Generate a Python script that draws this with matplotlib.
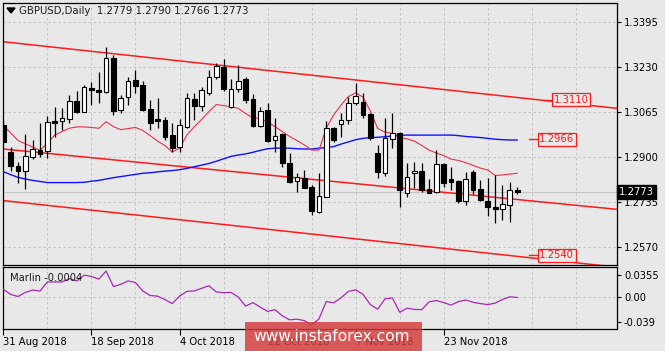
import matplotlib
matplotlib.use("Agg")
import matplotlib.pyplot as plt
from matplotlib.patches import Rectangle, Polygon

# ---------------- data ----------------
symbol_title = "GBPUSD,Daily  1.2779 1.2790 1.2766 1.2773"

opens = [1.3018, 1.2920, 1.2868, 1.2851, 1.2902, 1.2926, 1.2924, 1.3034, 1.3033, 1.3040,
         1.3106, 1.3067, 1.3152, 1.3147, 1.3138, 1.3264, 1.3073, 1.3119, 1.3183, 1.3164,
         1.3077, 1.3040, 1.3036, 1.2981, 1.2939, 1.3012, 1.3113, 1.3089, 1.3136, 1.3193,
         1.3231, 1.3085, 1.3149, 1.3185, 1.3112, 1.3014, 1.3073, 1.2963, 1.2984, 1.2880,
         1.2812, 1.2823, 1.2790, 1.2701, 1.2755, 1.3006, 1.3021, 1.3036, 1.3097, 1.3103,
         1.3059, 1.2914, 1.2841, 1.2967, 1.2988, 1.2768, 1.2841, 1.2849, 1.2783, 1.2774,
         1.2874, 1.2819, 1.2813, 1.2738, 1.2847, 1.2783, 1.2741, 1.2719, 1.2709, 1.2725,
         1.2779]
highs = [1.3035, 1.2938, 1.2884, 1.2985, 1.2963, 1.3026, 1.3051, 1.3085, 1.3080, 1.3128,
         1.3143, 1.3164, 1.3174, 1.3213, 1.3302, 1.3274, 1.3128, 1.3195, 1.3219, 1.3180,
         1.3109, 1.3116, 1.3048, 1.3024, 1.3039, 1.3134, 1.3136, 1.3158, 1.3219, 1.3246,
         1.3258, 1.3185, 1.3238, 1.3193, 1.3131, 1.3085, 1.3097, 1.3042, 1.2990, 1.2916,
         1.2841, 1.2853, 1.2798, 1.2841, 1.3034, 1.3012, 1.3061, 1.3122, 1.3173, 1.3136,
         1.3061, 1.2945, 1.3042, 1.3063, 1.2993, 1.2878, 1.2884, 1.2880, 1.2819, 1.2926,
         1.2880, 1.2865, 1.2816, 1.2847, 1.2853, 1.2816, 1.2822, 1.2835, 1.2798, 1.2810,
         1.2790]
lows = [1.2950, 1.2851, 1.2806, 1.2783, 1.2893, 1.2902, 1.2898, 1.2975, 1.3000, 1.3025,
        1.3063, 1.3064, 1.3091, 1.3097, 1.3134, 1.3054, 1.3061, 1.3091, 1.3136, 1.3070,
        1.3000, 1.3006, 1.2963, 1.2920, 1.2920, 1.3006, 1.3036, 1.3070, 1.3128, 1.3185,
        1.3143, 1.3079, 1.3140, 1.3099, 1.3012, 1.3012, 1.2957, 1.2920, 1.2865, 1.2804,
        1.2774, 1.2786, 1.2688, 1.2697, 1.2753, 1.2957, 1.2975, 1.3022, 1.3091, 1.3043,
        1.2963, 1.2823, 1.2832, 1.2933, 1.2719, 1.2755, 1.2786, 1.2774, 1.2768, 1.2768,
        1.2792, 1.2780, 1.2732, 1.2726, 1.2765, 1.2738, 1.2683, 1.2658, 1.2670, 1.2664,
        1.2766]
closes = [1.2956, 1.2868, 1.2851, 1.2905, 1.2930, 1.2912, 1.3028, 1.3027, 1.3043, 1.3107,
          1.3067, 1.3156, 1.3146, 1.3139, 1.3264, 1.3070, 1.3116, 1.3180, 1.3162, 1.3073,
          1.3026, 1.3034, 1.2975, 1.2933, 1.3018, 1.3116, 1.3089, 1.3146, 1.3195, 1.3234,
          1.3149, 1.3150, 1.3180, 1.3109, 1.3014, 1.3069, 1.2959, 1.2979, 1.2878, 1.2810,
          1.2826, 1.2786, 1.2704, 1.2758, 1.3006, 1.2963, 1.3036, 1.3097, 1.3124, 1.3055,
          1.2970, 1.2847, 1.2970, 1.2988, 1.2780, 1.2829, 1.2849, 1.2780, 1.2770, 1.2874,
          1.2805, 1.2810, 1.2738, 1.2819, 1.2780, 1.2743, 1.2717, 1.2710, 1.2729, 1.2780,
          1.2773]

ma_fast = [1.3016, 1.2989, 1.2961, 1.2949, 1.2937, 1.2925, 1.2952, 1.2981, 1.2994, 1.3006,
           1.3011, 1.3011, 1.3009, 1.3006, 1.3030, 1.3012, 1.3001, 1.3005, 1.3009, 1.2998,
           1.2979, 1.2959, 1.2943, 1.2919, 1.2933, 1.2981, 1.3011, 1.3038, 1.3067, 1.3093,
           1.3089, 1.3085, 1.3079, 1.3060, 1.3044, 1.3042, 1.3029, 1.3012, 1.2994, 1.2976,
           1.2961, 1.2945, 1.2926, 1.2926, 1.3007, 1.3055, 1.3091, 1.3122, 1.3136, 1.3120,
           1.3069, 1.3005, 1.2992, 1.2987, 1.2972, 1.2967, 1.2959, 1.2943, 1.2926, 1.2915,
           1.2906, 1.2893, 1.2888, 1.2880, 1.2870, 1.2860, 1.2853, 1.2833, 1.2835, 1.2838,
           1.2841]
ma_slow = [1.2847, 1.2836, 1.2826, 1.2820, 1.2815, 1.2811, 1.2807, 1.2807, 1.2807, 1.2807,
           1.2807, 1.2808, 1.2812, 1.2815, 1.2820, 1.2825, 1.2829, 1.2833, 1.2837, 1.2841,
           1.2843, 1.2846, 1.2849, 1.2851, 1.2854, 1.2859, 1.2865, 1.2871, 1.2877, 1.2885,
           1.2894, 1.2903, 1.2908, 1.2912, 1.2918, 1.2925, 1.2931, 1.2933, 1.2933, 1.2933,
           1.2931, 1.2930, 1.2930, 1.2933, 1.2935, 1.2939, 1.2948, 1.2956, 1.2964, 1.2969,
           1.2972, 1.2973, 1.2975, 1.2978, 1.2981, 1.2981, 1.2981, 1.2981, 1.2981, 1.2981,
           1.2981, 1.2981, 1.2979, 1.2976, 1.2974, 1.2972, 1.2969, 1.2966, 1.2964, 1.2963,
           1.2963]
marlin = [0.0124, 0.0044, 0.0011, 0.0076, 0.0113, 0.0097, 0.0242, 0.0242, 0.0242, 0.0294,
          0.0258, 0.0350, 0.0329, 0.0286, 0.0415, 0.0168, 0.0205, 0.0258, 0.0232, 0.0097,
          0.0027, 0.0016, -0.0037, -0.0102, 0.0016, 0.0092, 0.0100, 0.0140, 0.0181, 0.0084,
          0.0071, 0.0076, 0.0003, -0.0142, -0.0086, -0.0158, -0.0226, -0.0198, -0.0295, -0.0360,
          -0.0349, -0.0371, -0.0441, -0.0344, -0.0069, -0.0090, -0.0010, 0.0092, 0.0116, 0.0044,
          -0.0118, -0.0190, -0.0026, -0.0013, -0.0239, -0.0174, -0.0194, -0.0198, -0.0074, -0.0053,
          -0.0086, -0.0126, -0.0069, -0.0045, -0.0081, -0.0102, -0.0118, -0.0094, -0.0037, 0.0006,
          -0.0004]

# channel lines: (bar, price) end points
channel_top = [(0, 1.3323), (83.6, 1.3079)]
channel_mid = [(0, 1.2930), (83.6, 1.2709)]
channel_bot = [(0, 1.2741), (83.6, 1.2497)]

level_labels = [("1.3110", 75.0, 1.3110), ("1.2966", 73.0, 1.2966), ("1.2540", 73.0, 1.2540)]
current_price = 1.2773

price_ticks = [1.3395, 1.3230, 1.3065, 1.2900, 1.2735, 1.2570]
marlin_ticks = [0.0355, 0.0, -0.039]
marlin_tick_labels = ["0.0355", "0.00", "-0.039"]
date_positions = [0, 12, 24, 36, 48, 60]
date_labels = ["31 Aug 2018", "18 Sep 2018", "4 Oct 2018", "22 Oct 2018", "7 Nov 2018", "23 Nov 2018"]
marlin_name = "Marlin -0.0004"

# ---------------- figure ----------------
BG = "#e8e8e8"
W, H = 665, 351
fig = plt.figure(figsize=(W / 100, H / 100), dpi=100, facecolor=BG)
plt.rcParams["font.family"] = ["DejaVu Sans"]

def fx(px):
    return px / W

def fy(py):
    return 1 - py / H

ax = fig.add_axes([fx(3), fy(265), fx(617) - fx(3), fy(3) - fy(265)], facecolor=BG)
ax2 = fig.add_axes([fx(3), fy(329), fx(617) - fx(3), fy(267) - fy(329)], facecolor=BG)

xmin, xmax = -0.05, 83.6
n = len(closes)
xs = list(range(n))

for a in (ax, ax2):
    a.set_xlim(xmin, xmax)
    for s in a.spines.values():
        s.set_color("#000000")
        s.set_linewidth(0.9)
    for g in range(6, 84, 6):
        a.axvline(g, color="#bdbdbd", lw=0.6, ls=(0, (3, 3)), zorder=0)

# main panel
ax.set_ylim(1.2505, 1.3465)
for t in price_ticks:
    ax.axhline(t, color="#bdbdbd", lw=0.6, ls=(0, (3, 3)), zorder=0)
ax.axhline(current_price, color="#c4c4c4", lw=0.8, zorder=1)

for (p0, p1) in (channel_top, channel_mid, channel_bot):
    ax.plot([p0[0], p1[0]], [p0[1], p1[1]], color="#ff1a1a", lw=1.1, zorder=2)

ax.plot(xs, ma_slow, color="#1010ff", lw=1.0, zorder=3)
ax.plot(xs, ma_fast, color="#e8304a", lw=0.8, zorder=3)

body_w = 0.64
for i in xs:
    o, h, l, c = opens[i], highs[i], lows[i], closes[i]
    ax.vlines(i, l, h, color="black", lw=0.9, zorder=4)
    lo, hi = min(o, c), max(o, c)
    hgt = max(hi - lo, 0.00012)
    fc = "white" if c > o else "black"
    ax.add_patch(Rectangle((i - body_w / 2, lo), body_w, hgt, facecolor=fc,
                           edgecolor="black", lw=0.8, zorder=5))

ax.yaxis.tick_right()
ax.set_yticks(price_ticks)
ax.set_yticklabels([f"{t:.4f}" for t in price_ticks])
ax.tick_params(axis="y", direction="out", length=3, width=0.8, pad=2, labelsize=7.2,
               colors="black")
ax.set_xticks([])

# title
fig.patches.append(Polygon([[fx(7), fy(8)], [fx(15), fy(8)], [fx(11), fy(13)]],
                           closed=True, transform=fig.transFigure, facecolor="black",
                           edgecolor="black"))
fig.text(fx(19), fy(11), symbol_title, fontsize=7.3, va="center", ha="left", color="#1a1a1a")

# level labels
for txt, xb, price in level_labels:
    ax.plot([xb - 1.4, xb], [price, price], color="#ff1a1a", lw=1.0, zorder=6, clip_on=False)
    ax.text(xb, price, txt, fontsize=7.2, color="#ff1a1a", va="center", ha="left", zorder=7,
            bbox=dict(boxstyle="square,pad=0.15", facecolor=BG, edgecolor="#ff1a1a", lw=0.9))

# current price label
ax.text(1.003, current_price, f"{current_price:.4f}", transform=ax.get_yaxis_transform(),
        fontsize=7.2, color="white", va="center", ha="left", zorder=10,
        bbox=dict(boxstyle="square,pad=0.2", facecolor="black", edgecolor="black"))

# lower panel
ax2.set_ylim(-0.0505, 0.0479)
ax2.axhline(0, color="#bdbdbd", lw=0.6, ls=(0, (3, 3)), zorder=0)
ax2.plot(xs, marlin, color="#a628b4", lw=0.9, zorder=3)
ax2.yaxis.tick_right()
ax2.set_yticks(marlin_ticks)
ax2.set_yticklabels(marlin_tick_labels)
ax2.tick_params(axis="y", direction="out", length=3, width=0.8, pad=2, labelsize=7.2)
ax2.set_xticks(date_positions)
ax2.set_xticklabels(date_labels, ha="left")
ax2.tick_params(axis="x", direction="out", length=4, width=0.8, pad=2, labelsize=7.2)
ax2.text(0.012, 0.82, marlin_name, transform=ax2.transAxes, fontsize=7.2, va="center",
         ha="left", color="#1a1a1a")

# watermark
fig.patches.append(Rectangle((fx(245), fy(351)), fx(422) - fx(245), fy(322) - fy(351),
                             transform=fig.transFigure, facecolor="#d43a3a", alpha=0.82,
                             edgecolor="none", zorder=20))
fig.text(fx(332), fy(336.5), "www.instaforex.com", fontsize=11.2, color="white",
         ha="center", va="center", zorder=21)

fig.savefig("out.png", dpi=100, facecolor=BG)
